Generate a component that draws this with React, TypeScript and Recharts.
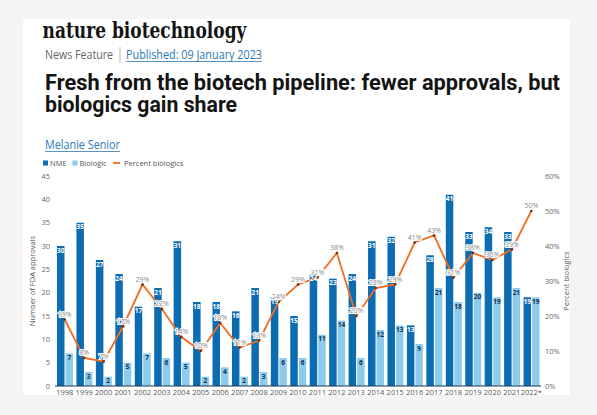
import React from 'react';
import {
  ComposedChart,
  Bar,
  Line,
  XAxis,
  YAxis,
  LabelList,
} from 'recharts';

const years = [
  '1998', '1999', '2000', '2001', '2002', '2003', '2004', '2005', '2006',
  '2007', '2008', '2009', '2010', '2011', '2012', '2013', '2014', '2015',
  '2016', '2017', '2018', '2019', '2020', '2021', '2022*',
];
const nme = [30, 35, 27, 24, 17, 21, 31, 18, 18, 16, 21, 19, 15, 24, 23, 24, 31, 32, 13, 28, 41, 33, 34, 33, 19];
const biologic = [7, 3, 2, 5, 7, 6, 5, 2, 4, 2, 3, 6, 6, 11, 14, 6, 12, 13, 9, 21, 18, 20, 19, 21, 19];
const percentBiologics = [19, 8, 7, 17, 29, 22, 14, 10, 18, 11, 13, 24, 29, 31, 38, 20, 28, 29, 41, 43, 31, 38, 36, 39, 50];
const leftTicks = [0, 5, 10, 15, 20, 25, 30, 35, 40, 45];
const rightTicks = [0, 10, 20, 30, 40, 50, 60];

const data = years.map((year, i) => ({
  year,
  nme: nme[i],
  biologic: biologic[i],
  pct: percentBiologics[i],
}));

const NME_BLUE = '#0b6cb1';
const BIO_BLUE = '#8dcbed';
const ORANGE = '#f06d22';
const chartFont = '"Open Sans", sans-serif';

export default function App() {
  return (
    <div
      style={{
        position: 'absolute',
        left: 0,
        top: 0,
        width: 597,
        height: 415,
        background: '#f5f4f2',
        overflow: 'hidden',
      }}
    >
      {/* white card */}
      <div
        style={{
          position: 'absolute',
          left: 23,
          top: 19,
          width: 547,
          height: 376,
          background: '#fff',
        }}
      />

      {/* chart */}
      <div style={{ position: 'absolute', left: 0, top: 150 }}>
        <ComposedChart
          width={597}
          height={260}
          data={data}
          margin={{ top: 26, right: 26, bottom: 4, left: 25 }}
          barGap={1}
        >
          <XAxis
            dataKey="year"
            height={20}
            interval={0}
            tickLine={false}
            tickSize={0}
            tickMargin={4}
            axisLine={{ stroke: '#1c3553', strokeWidth: 1 }}
            tick={{ fontSize: 7.5, fill: '#555', fontFamily: chartFont }}
          />
          <YAxis
            yAxisId="left"
            width={30}
            domain={[0, 45]}
            ticks={leftTicks}
            interval={0}
            axisLine={false}
            tickLine={false}
            tickSize={0}
            tickMargin={5}
            tick={{ fontSize: 7.5, fill: '#666', fontFamily: chartFont }}
          />
          <YAxis
            yAxisId="right"
            orientation="right"
            width={30}
            domain={[0, 60]}
            ticks={rightTicks}
            interval={0}
            axisLine={false}
            tickLine={false}
            tickSize={0}
            tickMargin={4}
            tickFormatter={(v) => `${v}%`}
            tick={{ fontSize: 7.5, fill: '#666', fontFamily: chartFont }}
          />
          <Bar
            yAxisId="left"
            dataKey="nme"
            fill={NME_BLUE}
            barSize={7.5}
            isAnimationActive={false}
          >
            <LabelList
              dataKey="nme"
              position="insideTop"
              offset={2}
              style={{ fontSize: 6.5, fontWeight: 700, fill: '#fff', fontFamily: chartFont }}
            />
          </Bar>
          <Bar
            yAxisId="left"
            dataKey="biologic"
            fill={BIO_BLUE}
            barSize={7.5}
            isAnimationActive={false}
          >
            <LabelList
              dataKey="biologic"
              position="insideTop"
              offset={2}
              style={{ fontSize: 6.5, fontWeight: 700, fill: '#15304f', fontFamily: chartFont }}
            />
          </Bar>
          <Line
            yAxisId="right"
            dataKey="pct"
            type="linear"
            stroke={ORANGE}
            strokeWidth={1.8}
            dot={{ r: 1.3, fill: '#6b2c12', stroke: 'none' }}
            activeDot={false}
            isAnimationActive={false}
          >
            <LabelList
              dataKey="pct"
              position="top"
              offset={3}
              formatter={(v) => `${v}%`}
              style={{
                fontSize: 7,
                fill: '#8a8a8a',
                fontFamily: chartFont,
                stroke: '#fff',
                strokeWidth: 2,
                paintOrder: 'stroke',
              }}
            />
          </Line>
        </ComposedChart>
      </div>

      {/* header, legend and axis titles */}
      <svg
        width={597}
        height={415}
        style={{ position: 'absolute', left: 0, top: 0, pointerEvents: 'none' }}
      >
        <text
          x={42.5}
          y={38}
          fontSize={23}
          fontWeight={700}
          fontFamily='"DejaVu Serif", serif'
          fill="#141414"
          textLength={204}
          lengthAdjust="spacingAndGlyphs"
        >
          nature biotechnology
        </text>
        <text
          x={45}
          y={59}
          fontSize={12}
          fontFamily='"Open Sans", sans-serif'
          fill="#666"
          textLength={68}
          lengthAdjust="spacingAndGlyphs"
        >
          News Feature
        </text>
        <line x1={120} x2={120} y1={47} y2={63} stroke="#b5b5b5" strokeWidth={1} />
        <text
          x={126}
          y={59}
          fontSize={12}
          fontFamily='"Open Sans", sans-serif'
          fill="#2a78b4"
          textLength={136}
          lengthAdjust="spacingAndGlyphs"
        >
          Published: 09 January 2023
        </text>
        <line x1={126} x2={262} y1={61.5} y2={61.5} stroke="#2a78b4" strokeWidth={0.8} />
        <text
          x={45}
          y={90}
          fontSize={22}
          fontWeight={700}
          fontFamily='Roboto, sans-serif'
          fill="#141414"
          textLength={515}
          lengthAdjust="spacingAndGlyphs"
        >
          Fresh from the biotech pipeline: fewer approvals, but
        </text>
        <text
          x={45}
          y={112}
          fontSize={22}
          fontWeight={700}
          fontFamily='Roboto, sans-serif'
          fill="#141414"
          textLength={192}
          lengthAdjust="spacingAndGlyphs"
        >
          biologics gain share
        </text>
        <text
          x={45}
          y={149}
          fontSize={12}
          fontFamily='"Open Sans", sans-serif'
          fill="#2a78b4"
          textLength={75}
          lengthAdjust="spacingAndGlyphs"
        >
          Melanie Senior
        </text>
        <line x1={45} x2={120} y1={151.5} y2={151.5} stroke="#2a78b4" strokeWidth={0.8} />

        {/* legend */}
        <rect x={43} y={160.5} width={5} height={5} fill={NME_BLUE} />
        <text x={50} y={166} fontSize={7.5} fill="#555" fontFamily={chartFont}>NME</text>
        <rect x={72.5} y={160.5} width={5} height={5} fill={BIO_BLUE} />
        <text x={79.5} y={166} fontSize={7.5} fill="#555" fontFamily={chartFont}>Biologic</text>
        <line x1={113} x2={120} y1={163} y2={163} stroke={ORANGE} strokeWidth={1.8} />
        <text x={124} y={166} fontSize={7.5} fill="#555" fontFamily={chartFont}>Percent biologics</text>

        {/* axis titles */}
        <text
          transform="translate(35,281) rotate(-90)"
          textAnchor="middle"
          fontSize={7.5}
          fill="#555"
          fontFamily={chartFont}
        >
          Number of FDA approvals
        </text>
        <text
          transform="translate(569,281) rotate(-90)"
          textAnchor="middle"
          fontSize={7.5}
          fill="#555"
          fontFamily={chartFont}
        >
          Percent biologics
        </text>
      </svg>
    </div>
  );
}
